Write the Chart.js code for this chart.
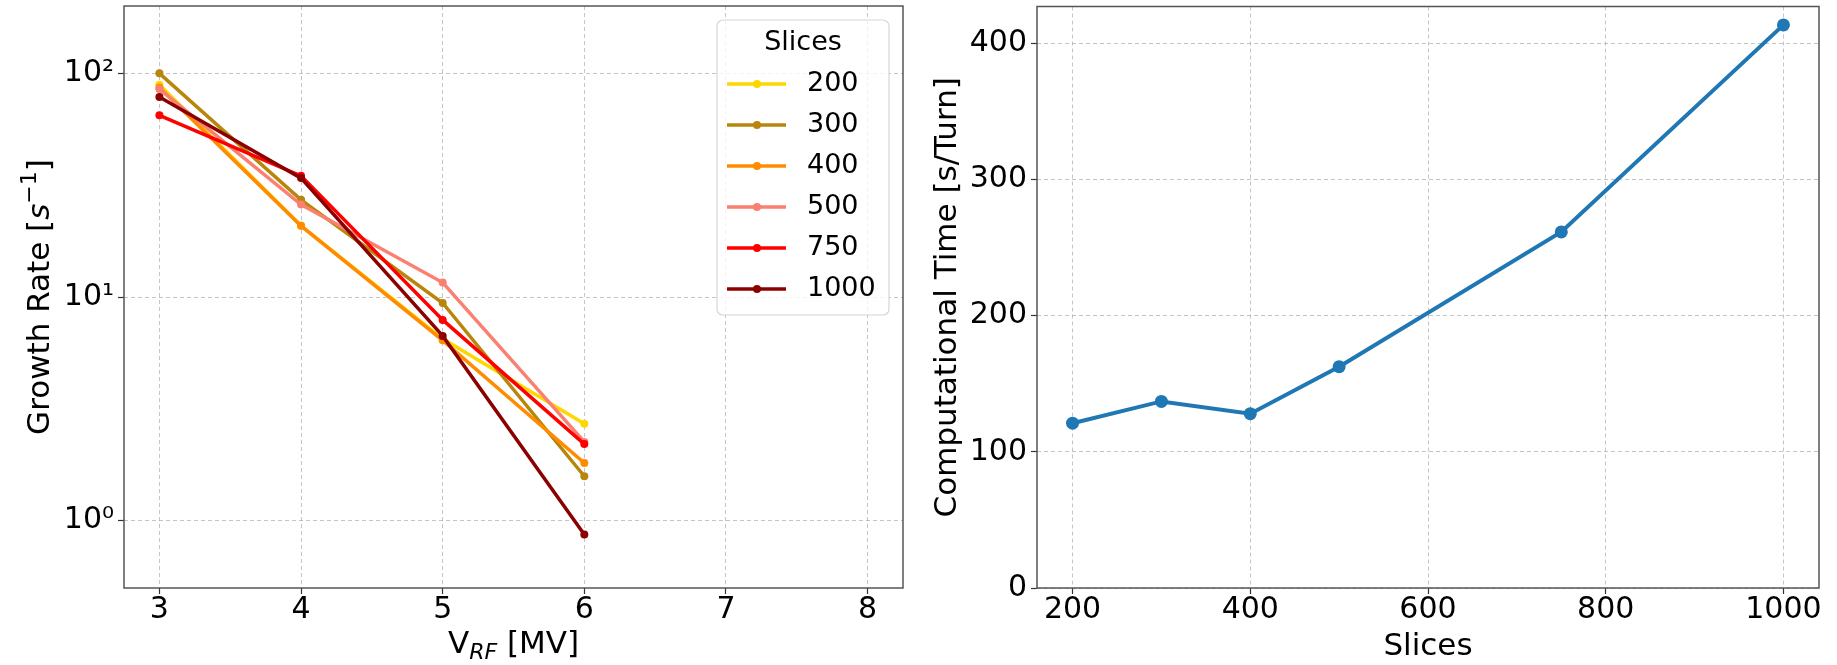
<!DOCTYPE html>
<html>
<head>
<meta charset="utf-8">
<script src="https://cdn.jsdelivr.net/npm/chart.js@4.4.1/dist/chart.umd.min.js"></script>
<style>
  html, body { margin: 0; padding: 0; background: #fff; }
  #wrap { position: relative; width: 1837px; height: 665px; }
  canvas { position: absolute; top: 0; }
</style>
</head>
<body>
<div id="wrap">
  <canvas id="growth" width="920" height="665" style="left:0"></canvas>
  <canvas id="timing" width="917" height="665" style="left:920px"></canvas>
</div>
<script>
// left panel: growth rate vs RF voltage, one line per number of slices
const vrf = [3, 4, 5, 6];
const sliceLabels = ['200', '300', '400', '500', '750', '1000'];
const growth200 = [89, 20.8, 6.5, 2.71];
const growth300 = [100, 27.2, 9.4, 1.58];
const growth400 = [86.5, 20.8, 6.4, 1.81];
const growth500 = [85, 25.9, 11.6, 2.25];
const growth750 = [64.9, 34.8, 7.9, 2.2];
const growth1000 = [78.3, 34, 6.7, 0.868];
const vrfTicks = [3, 4, 5, 6, 7, 8];
const growthMajor = [1, 10, 100];
const growthTickLabels = ['10⁰', '10¹', '10²'];

// right panel: cost per turn vs number of slices
const slices = [200, 300, 400, 500, 750, 1000];
const compTime = [121, 137, 128, 162.5, 261.5, 413.5];
const sliceTicks = [200, 400, 600, 800, 1000];
const timeTicks = [0, 100, 200, 300, 400];

const lineColors = ['#ffd700', '#b8860b', '#ff8c00', '#fa8072', '#ff0000', '#8b0000'];
const FONT = 'DejaVu Sans';
const GRID = 'rgba(150,150,150,0.55)';

function drawRich(ctx, parts, cx, cy, size, rotate) {
  ctx.save();
  ctx.translate(cx, cy);
  if (rotate) ctx.rotate(-Math.PI / 2);
  ctx.textBaseline = 'alphabetic';
  ctx.textAlign = 'left';
  ctx.fillStyle = '#000';
  const fontFor = p => (p.italic ? 'italic ' : '') + Math.round(size * (p.scale || 1)) + 'px "' + FONT + '"';
  let total = 0;
  const widths = parts.map(p => { ctx.font = fontFor(p); const w = ctx.measureText(p.text).width; total += w; return w; });
  let x = -total / 2;
  parts.forEach((p, i) => {
    ctx.font = fontFor(p);
    ctx.fillText(p.text, x, size * 0.365 + (p.dy || 0) * size);
    x += widths[i];
  });
  ctx.restore();
}

function drawLegend(chart) {
  const { ctx, chartArea: a } = chart;
  const w = 172, h = 295, rowH = 41;
  const x0 = a.right - 14 - w, y0 = a.top + 14;
  ctx.save();
  ctx.beginPath();
  ctx.roundRect(x0, y0, w, h, 6);
  ctx.fillStyle = 'rgba(255,255,255,0.8)';
  ctx.fill();
  ctx.strokeStyle = '#d6d6d6';
  ctx.lineWidth = 1.2;
  ctx.stroke();
  ctx.font = '27px "' + FONT + '"';
  ctx.textBaseline = 'middle';
  ctx.textAlign = 'center';
  ctx.fillStyle = '#000';
  ctx.fillText('Slices', x0 + w / 2, y0 + 23);
  chart.data.datasets.forEach((ds, i) => {
    const y = y0 + 64 + i * rowH;
    ctx.strokeStyle = ds.borderColor;
    ctx.lineWidth = 3.5;
    ctx.beginPath();
    ctx.moveTo(x0 + 10, y);
    ctx.lineTo(x0 + 69, y);
    ctx.stroke();
    ctx.fillStyle = ds.borderColor;
    ctx.beginPath();
    ctx.arc(x0 + 40, y, 4, 0, Math.PI * 2);
    ctx.fill();
    ctx.fillStyle = '#000';
    ctx.textAlign = 'left';
    ctx.fillText(ds.label, x0 + 90, y);
  });
  ctx.restore();
}

// frame, axis titles with sub/superscripts, legend
function makeDecor(cfg) {
  return {
    id: 'decor',
    afterDatasetsDraw(chart) {
      const { ctx, chartArea: a } = chart;
      ctx.save();
      ctx.strokeStyle = '#555';
      ctx.lineWidth = 1.5;
      ctx.strokeRect(a.left, a.top, a.right - a.left, a.bottom - a.top);
      ctx.restore();
      drawRich(ctx, cfg.xTitle, (a.left + a.right) / 2, cfg.xTitleY, 31, false);
      drawRich(ctx, cfg.yTitle, cfg.yTitleX, (a.top + a.bottom) / 2, 31, true);
      if (cfg.legend) drawLegend(chart);
    }
  };
}

function isMajor(v) {
  return growthMajor.some(m => Math.abs(m - v) < 1e-9);
}

function logTicks(min, max) {
  const out = [];
  for (let e = -1; e <= 2; e++) {
    for (let k = 1; k <= 9; k++) {
      const v = k * Math.pow(10, e);
      if (v >= min - 1e-9 && v <= max + 1e-9) out.push(v);
    }
  }
  return out;
}

const tickFont = { family: FONT, size: 30 };

function xAxis(min, max, tickVals) {
  return {
    type: 'linear', min: min, max: max,
    afterBuildTicks: s => { s.ticks = tickVals.map(v => ({ value: v })); },
    afterFit: s => { s.height = 77; s.paddingLeft = 0; s.paddingRight = 0; },
    grid: { color: GRID, lineWidth: 1, tickLength: 6, tickColor: '#333', tickWidth: 1.2, tickBorderDash: [] },
    border: { display: false, dash: [4, 3] },
    ticks: { font: tickFont, color: '#000', padding: -2, autoSkip: false, maxRotation: 0, callback: v => String(v) }
  };
}

new Chart(document.getElementById('growth'), {
  type: 'line',
  data: {
    datasets: [growth200, growth300, growth400, growth500, growth750, growth1000].map((s, i) => ({
      label: sliceLabels[i],
      data: vrf.map((x, j) => ({ x: x, y: s[j] })),
      borderColor: lineColors[i],
      backgroundColor: lineColors[i],
      pointBackgroundColor: lineColors[i],
      borderWidth: 3.5,
      pointRadius: 4,
      pointBorderWidth: 0,
      tension: 0,
      order: 6 - i
    }))
  },
  options: {
    responsive: false,
    animation: false,
    layout: { padding: { left: 0, right: 17, top: 6, bottom: 0 } },
    plugins: { legend: { display: false }, tooltip: { enabled: false } },
    scales: {
      x: xAxis(2.75, 8.25, vrfTicks),
      y: {
        type: 'logarithmic', min: 0.5, max: 200,
        afterBuildTicks: s => { s.ticks = logTicks(0.5, 200).map(v => ({ value: v, major: isMajor(v) })); },
        afterFit: s => { s.width = 124; s.paddingTop = 0; s.paddingBottom = 0; },
        grid: {
          color: c => (c.tick && isMajor(c.tick.value)) ? GRID : 'rgba(0,0,0,0)',
          tickLength: 6, tickColor: '#333',
          tickWidth: c => (c.tick && isMajor(c.tick.value)) ? 1.2 : 0.8,
          tickBorderDash: []
        },
        border: { display: false, dash: [4, 3] },
        ticks: {
          font: tickFont, color: '#000', padding: 4, autoSkip: false,
          callback: v => {
            const i = growthMajor.findIndex(m => Math.abs(m - v) < 1e-9);
            return i < 0 ? null : growthTickLabels[i];
          }
        }
      }
    }
  },
  plugins: [makeDecor({
    xTitle: [{ text: 'V' }, { text: 'RF', italic: true, scale: 0.7, dy: 0.18 }, { text: ' [MV]' }],
    xTitleY: 642,
    yTitle: [{ text: 'Growth Rate [' }, { text: 's', italic: true }, { text: '−1', scale: 0.7, dy: -0.42 }, { text: ']' }],
    yTitleX: 38,
    legend: true
  })]
});

new Chart(document.getElementById('timing'), {
  type: 'line',
  data: {
    datasets: [{
      label: 'Computational Time',
      data: slices.map((x, j) => ({ x: x, y: compTime[j] })),
      borderColor: '#1f77b4',
      backgroundColor: '#1f77b4',
      pointBackgroundColor: '#1f77b4',
      borderWidth: 4,
      pointRadius: 6.5,
      pointBorderWidth: 0,
      tension: 0
    }]
  },
  options: {
    responsive: false,
    animation: false,
    layout: { padding: { left: 0, right: 18, top: 6, bottom: 0 } },
    plugins: { legend: { display: false }, tooltip: { enabled: false } },
    scales: {
      x: xAxis(160, 1040, sliceTicks),
      y: {
        type: 'linear', min: 0, max: 427,
        afterBuildTicks: s => { s.ticks = timeTicks.map(v => ({ value: v })); },
        afterFit: s => { s.width = 117; s.paddingTop = 0; s.paddingBottom = 0; },
        grid: { color: GRID, lineWidth: 1, tickLength: 6, tickColor: '#333', tickWidth: 1.2, tickBorderDash: [] },
        border: { display: false, dash: [4, 3] },
        ticks: { font: tickFont, color: '#000', padding: 4, autoSkip: false, callback: v => String(v) }
      }
    }
  },
  plugins: [makeDecor({
    xTitle: [{ text: 'Slices' }],
    xTitleY: 644,
    yTitle: [{ text: 'Computational Time [s/Turn]' }],
    yTitleX: 25,
    legend: false
  })]
});
</script>
</body>
</html>
